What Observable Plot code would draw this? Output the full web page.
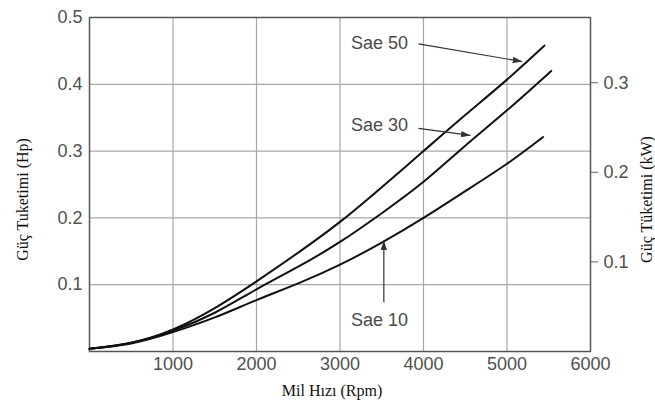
<!DOCTYPE html>
<html>
<head>
<meta charset="utf-8">
<script src="https://cdn.jsdelivr.net/npm/d3@7"></script>
<script src="https://cdn.jsdelivr.net/npm/@observablehq/plot@0.6"></script>
<style>
  html, body { margin: 0; padding: 0; background: #fff; }
</style>
</head>
<body>
<div id="chart"></div>
<script>
// ---- data ----
const series = ["Sae 50", "Sae 30", "Sae 10"];
const rpmSae50 = [0, 500, 1000, 1500, 2000, 2500, 3000, 3500, 4000, 4500, 5000, 5450];
const hpSae50  = [0.004, 0.013, 0.033, 0.065, 0.105, 0.148, 0.194, 0.246, 0.300, 0.354, 0.407, 0.458];
const rpmSae30 = [0, 500, 1000, 1500, 2000, 2500, 3000, 3500, 4000, 4500, 5000, 5530];
const hpSae30  = [0.004, 0.013, 0.031, 0.058, 0.093, 0.127, 0.164, 0.207, 0.254, 0.308, 0.361, 0.420];
const rpmSae10 = [0, 500, 1000, 1500, 2000, 2500, 3000, 3500, 4000, 4500, 5000, 5433];
const hpSae10  = [0.004, 0.012, 0.029, 0.051, 0.077, 0.102, 0.130, 0.163, 0.200, 0.240, 0.281, 0.321];

const xTicks = [1000, 2000, 3000, 4000, 5000, 6000];
const yTicks = [0.1, 0.2, 0.3, 0.4, 0.5];
const kwTicks = [0.1, 0.2, 0.3];
const hpToKw = 0.7457;

// annotation labels and arrows (data units: rpm, hp)
const labelNames = ["Sae 50", "Sae 30", "Sae 10"];
const labelRpm   = [3473, 3473, 3473];
const labelHp    = [0.4615, 0.338, 0.0475];
const arrowRpm1  = [3940, 3940, 3525];
const arrowHp1   = [0.4606, 0.334, 0.0738];
const arrowRpm2  = [5182, 4563, 3525];
const arrowHp2   = [0.434, 0.3234, 0.166];

const xTitle = "Mil Hızı (Rpm)";
const yTitleLeft = "Güç Tuketimi (Hp)";
const yTitleRight = "Güç Tüketimi (kW)";

// ---- build tables ----
const rows = [];
[[rpmSae50, hpSae50], [rpmSae30, hpSae30], [rpmSae10, hpSae10]].forEach(([xs, ys], i) => {
  xs.forEach((x, j) => rows.push({series: series[i], rpm: x, hp: ys[j]}));
});
const labels = labelNames.map((n, i) => ({name: n, rpm: labelRpm[i], hp: labelHp[i]}));
const arrows = labelNames.map((n, i) => ({x1: arrowRpm1[i], y1: arrowHp1[i], x2: arrowRpm2[i], y2: arrowHp2[i]}));

const serif = "'Liberation Serif', 'Times New Roman', serif";

// filled triangular arrowhead marker
function filledHead(color, context) {
  const ns = "http://www.w3.org/2000/svg";
  const doc = (context && context.document) || document;
  const m = doc.createElementNS(ns, "marker");
  m.setAttribute("viewBox", "-5 -5 10 10");
  m.setAttribute("markerUnits", "userSpaceOnUse");
  m.setAttribute("markerWidth", "10");
  m.setAttribute("markerHeight", "10");
  m.setAttribute("refX", "4.5");
  m.setAttribute("refY", "0");
  m.setAttribute("orient", "auto");
  const p = doc.createElementNS(ns, "path");
  p.setAttribute("d", "M-5,-3.2L4.5,0L-5,3.2Z");
  p.setAttribute("fill", color);
  p.setAttribute("stroke", "none");
  m.appendChild(p);
  return m;
}

let arrowMark;
try {
  arrowMark = Plot.link(arrows, {x1: "x1", y1: "y1", x2: "x2", y2: "y2", stroke: "#333", strokeWidth: 1.2, markerEnd: filledHead});
} catch (e) {
  arrowMark = Plot.arrow(arrows, {x1: "x1", y1: "y1", x2: "x2", y2: "y2", stroke: "#333", strokeWidth: 1.2, headLength: 9, headAngle: 35});
}

const chart = Plot.plot({
  width: 655,
  height: 409,
  marginLeft: 89,
  marginRight: 65,
  marginTop: 17,
  marginBottom: 58,
  style: {fontFamily: "'Liberation Sans', Arial, sans-serif", fontSize: "18px", background: "#fff", color: "#505050"},
  x: {domain: [0, 6000]},
  y: {domain: [0, 0.5]},
  marks: [
    Plot.gridX(xTicks.slice(0, -1), {stroke: "#a8a8a8", strokeOpacity: 1, strokeWidth: 1.2}),
    Plot.gridY(yTicks.slice(0, -1), {stroke: "#a8a8a8", strokeOpacity: 1, strokeWidth: 1.2}),
    Plot.frame({stroke: "#555", strokeWidth: 1.5}),
    Plot.axisX({ticks: xTicks, tickSize: 0, tickPadding: 6, label: null, tickFormat: d => String(d), fill: "#505050"}),
    Plot.axisY({anchor: "left", ticks: yTicks, tickSize: 0, tickPadding: 7, label: null, tickFormat: d => d.toFixed(1), fill: "#505050"}),
    Plot.axisY({anchor: "right", ticks: kwTicks.map(k => k / hpToKw), tickSize: 7, tickPadding: 6, label: null,
      stroke: "#666", tickFormat: d => (d * hpToKw).toFixed(1), fill: "#505050"}),
    Plot.line(rows, {x: "rpm", y: "hp", z: "series", stroke: "#111", strokeWidth: 2, curve: "natural"}),
    arrowMark,
    Plot.text(labels, {x: "rpm", y: "hp", text: "name", fill: "#4a4a4a", fontSize: 18}),
    Plot.text([yTitleLeft], {frameAnchor: "left", dx: -67, dy: 15, rotate: -90, textAnchor: "middle", fontFamily: serif, fontSize: 16, fill: "#111"}),
    Plot.text([yTitleRight], {frameAnchor: "right", dx: 56, dy: 15, rotate: -90, textAnchor: "middle", fontFamily: serif, fontSize: 16, fill: "#111"}),
    Plot.text([xTitle], {frameAnchor: "bottom", dy: 44, dx: -8, fontFamily: serif, fontSize: 16, fill: "#111"})
  ]
});
document.getElementById("chart").appendChild(chart);
</script>
</body>
</html>
